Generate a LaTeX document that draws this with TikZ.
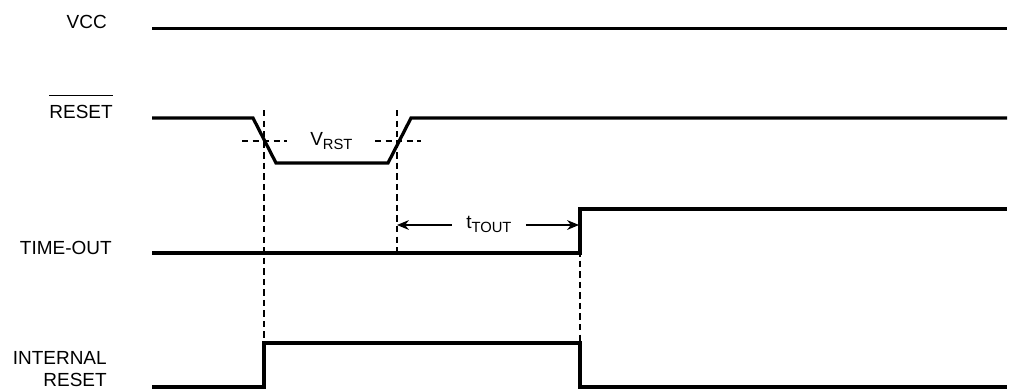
\documentclass[tikz,border=0pt]{standalone}
\usepackage{fontspec}
\setmainfont{Liberation Sans}
\usetikzlibrary{arrows.meta}
\newcommand{\sigsub}[1]{\raisebox{-0.45ex}{\fontsize{10.5}{12}\selectfont #1}}

\begin{document}
\begin{tikzpicture}[x=0.025cm, y=-0.025cm,
        wave/.style={line width=2.3pt, line join=miter},
        guide/.style={line width=0.8pt, dash pattern=on 4.5pt off 3pt},
        siglabel/.style={anchor=base east, inner sep=0pt, font=\fontsize{13.5}{15}\selectfont},
        mark label/.style={inner sep=0pt, font=\fontsize{13.5}{15}\selectfont},
        span/.style={line width=0.8pt, -{Stealth[length=8.5pt, width=7pt]}}]
    \useasboundingbox (0,0) rectangle (1018,389);

    \node[siglabel] (vcc) at (107,28) {VCC};
    \node[siglabel] (rst) at (113,118) {RESET};
    \draw[line width=0.7pt] ([yshift=6.5pt]rst.north west) -- ([yshift=6.5pt]rst.north east);
    \node[siglabel] (tout) at (112,254) {TIME-OUT};
    \node[siglabel] (irsta) at (107,364) {INTERNAL};
    \node[siglabel] (irstb) at (107,386) {RESET};

    \draw[wave] (152,28.5) -- (1007,28.5);
    \draw[wave] (152,118) -- (253,118) -- (276,163) -- (388,163) -- (411,118) -- (1007,118);
    \draw[wave] (152,253) -- (580,253) -- (580,209) -- (1007,209);
    \draw[wave] (152,387) -- (264,387) -- (264,343) -- (580,343) -- (580,387) -- (1007,387);

    \draw[guide] (264,110) -- (264,386);
    \draw[guide] (397,110) -- (397,252);
    \draw[guide] (580,208) -- (580,386);
    \draw[guide] (242,141) -- (287,141);
    \draw[guide] (375,141) -- (421,141);

    \node[mark label, anchor=base west] (vrst) at (310,145) {V\sigsub{RST}};

    \coordinate (tstart) at (397,225);
    \coordinate (tend) at (579,225);
    \node[mark label, anchor=base west] (ttout) at (466,228) {t\sigsub{TOUT}};
    \draw[span] ([xshift=-10pt]ttout.west |- tstart) -- (tstart);
    \draw[span] ([xshift=10pt]ttout.east |- tend) -- (tend);
\end{tikzpicture}
\end{document}
